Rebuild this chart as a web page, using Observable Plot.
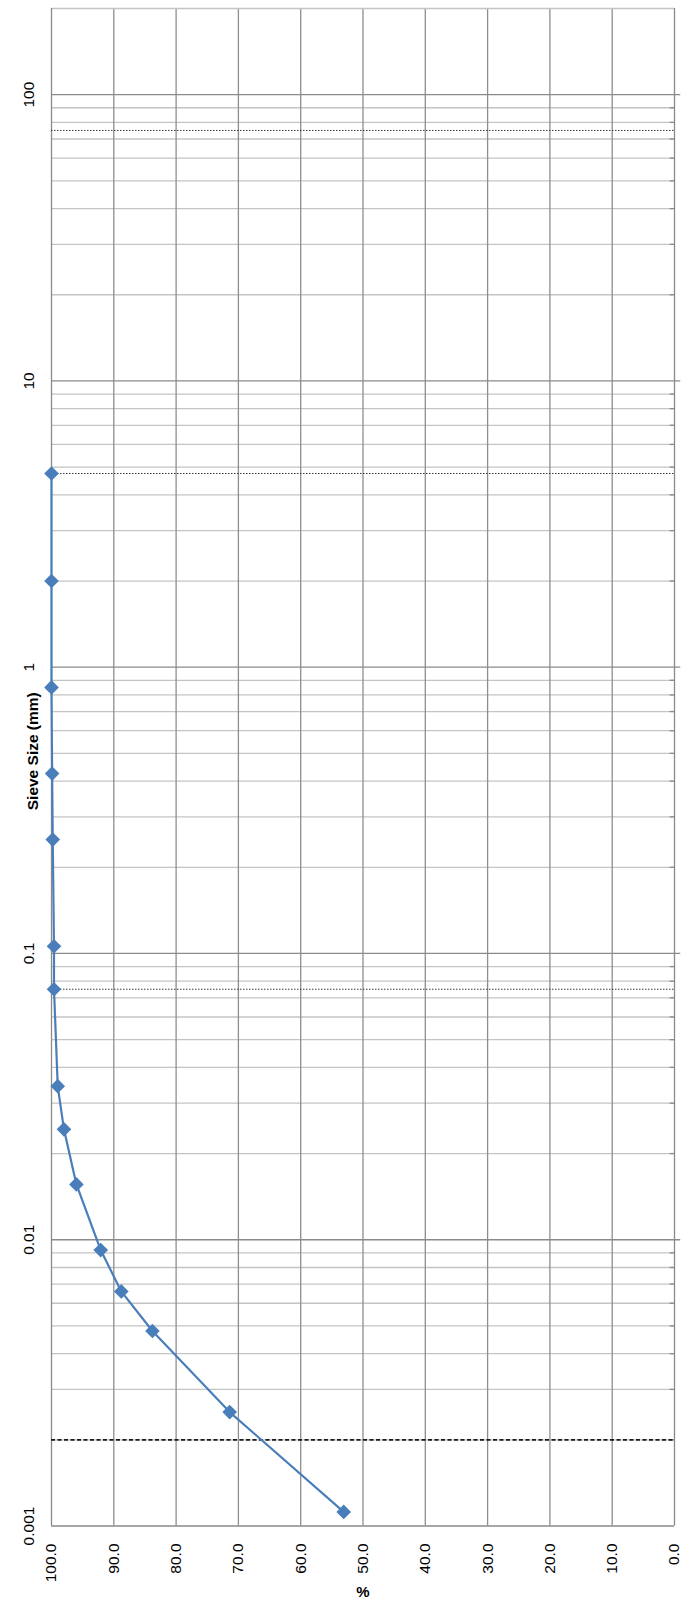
<!DOCTYPE html>
<html>
<head>
<meta charset="utf-8">
<script src="https://cdn.jsdelivr.net/npm/d3@7"></script>
<script src="https://cdn.jsdelivr.net/npm/@observablehq/plot@0.6"></script>
<style>
  html, body { margin: 0; padding: 0; background: #fff; }
  #chart svg { display: block; }
</style>
</head>
<body>
<div id="chart"></div>
<script>
// Data: sieve size (mm) and percent passing
const sieveSizes = [4.75, 2.0, 0.85, 0.425, 0.25, 0.106, 0.075, 0.0344, 0.0243, 0.0156, 0.0092, 0.0066, 0.0048, 0.0025, 0.00112];
const percentPassing = [100.0, 100.0, 100.0, 99.9, 99.8, 99.6, 99.6, 99.0, 98.0, 96.0, 92.1, 88.8, 83.8, 71.4, 53.1];

// Reference lines
const dottedLimits = [75, 4.75, 0.075];
const dashedLimits = [0.002];

// Axis ticks
const yMajorTicks = [0.001, 0.01, 0.1, 1, 10, 100];
const yTickLabels = ["0.001", "0.01", "0.1", "1", "10", "100"];
const xTicks = [100, 90, 80, 70, 60, 50, 40, 30, 20, 10, 0];
const xTickLabels = ["100.0", "90.0", "80.0", "70.0", "60.0", "50.0", "40.0", "30.0", "20.0", "10.0", "0.0"];
const yMinorMultipliers = [2, 3, 4, 5, 6, 7, 8, 9];

const yTitle = "Sieve Size (mm)";
const xTitle = "%";

const points = sieveSizes.map((s, i) => ({size: s, pct: percentPassing[i]}));
const yMinorTicks = yMajorTicks.slice(0, -1).flatMap(d => yMinorMultipliers.map(m => +(d * m).toPrecision(3)));
const xInner = xTicks.filter(d => d !== 100 && d !== 0);
const yTickData = yMajorTicks.map((v, i) => ({v, label: yTickLabels[i]}));
const xTickData = xTicks.map((v, i) => ({v, label: xTickLabels[i]}));

const font = "'Liberation Sans', Arial, sans-serif";

const chart = Plot.plot({
  width: 686,
  height: 1617,
  marginLeft: 51,
  marginRight: 12,
  marginTop: 8,
  marginBottom: 91.5,
  style: {fontFamily: font, background: "#fff"},
  x: {type: "linear", domain: [100, 0], axis: null},
  y: {type: "log", domain: [0.001, 200], axis: null},
  marks: [
    // minor horizontal grid
    Plot.ruleY(yMinorTicks, {y: d => d, x1: 100, x2: 0, stroke: "#c4c4c4", strokeWidth: 1.3}),
    // minor inner ticks on right axis
    Plot.ruleY(yMinorTicks, {y: d => d, x1: 0.7, x2: 0, stroke: "#8a8a8a", strokeWidth: 1.3}),
    // vertical grid
    Plot.ruleX(xInner, {x: d => d, y1: 0.001, y2: 200, stroke: "#8e8e8e", strokeWidth: 1.3}),
    // major horizontal grid, extends as outer tick on the right
    Plot.ruleY(yMajorTicks.slice(1), {y: d => d, x1: 100, x2: -1, stroke: "#8a8a8a", strokeWidth: 1.3}),
    // frame
    Plot.ruleY([200], {x1: 100, x2: 0, stroke: "#c4c4c4", strokeWidth: 1.3}),
    Plot.ruleX([0], {y1: 0.001, y2: 200, stroke: "#8a8a8a", strokeWidth: 1.3}),
    Plot.ruleX([100], {y1: 0.001, y2: 200, stroke: "#8a8a8a", strokeWidth: 1.3}),
    Plot.ruleY([0.001], {x1: 100, x2: 0, stroke: "#8a8a8a", strokeWidth: 1.3}),
    // limit lines
    Plot.ruleY(dottedLimits, {y: d => d, x1: 100, x2: 0, stroke: "#3a3a3a", strokeWidth: 1, strokeDasharray: "1.5,1.5"}),
    Plot.ruleY(dashedLimits, {y: d => d, x1: 100, x2: 0, stroke: "#1a1a1a", strokeWidth: 1.6, strokeDasharray: "4,2.5"}),
    // data
    Plot.line(points, {x: "pct", y: "size", stroke: "#4a7ebb", strokeWidth: 2.2}),
    Plot.dot(points, {x: "pct", y: "size", symbol: "diamond2", r: 6.6, fill: "#4a7ebb", stroke: "none"}),
    // y tick labels
    Plot.text(yTickData, {x: () => 100, y: "v", text: "label", rotate: -90, textAnchor: "middle", lineAnchor: "bottom", dx: -18, fontSize: 15.5, fill: "#000"}),
    // x tick labels
    Plot.text(xTickData, {x: "v", y: () => 0.001, text: "label", rotate: -90, textAnchor: "end", lineAnchor: "middle", dy: 17.5, fontSize: 15.5, fill: "#000"}),
    // axis titles
    Plot.text([yTitle], {frameAnchor: "left", text: d => d, rotate: -90, textAnchor: "middle", lineAnchor: "bottom", dx: -14, dy: -16, fontSize: 15.5, fontWeight: "bold", fill: "#000"}),
    Plot.text([xTitle], {frameAnchor: "bottom", text: d => d, lineAnchor: "middle", dy: 66.5, fontSize: 15, fontWeight: "bold", fill: "#000"})
  ]
});
document.getElementById("chart").appendChild(chart);
</script>
</body>
</html>
